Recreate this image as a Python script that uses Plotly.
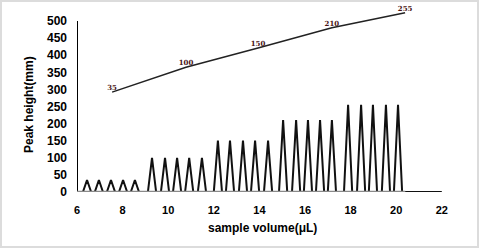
import plotly.graph_objects as go

# Peak data (sample volume, peak height)
peak_centers = [6.44, 6.96, 7.49, 8.02, 8.54,
                9.29, 9.86, 10.39, 10.92, 11.48,
                12.18, 12.71, 13.28, 13.81, 14.38,
                15.04, 15.61, 16.13, 16.66, 17.18,
                17.89, 18.46, 18.98, 19.55, 20.08]
peak_heights = [35, 35, 35, 35, 35,
                100, 100, 100, 100, 100,
                150, 150, 150, 150, 150,
                210, 210, 210, 210, 210,
                255, 255, 255, 255, 255]
baseline_start = 6.0
baseline_end = 22.0

# Upper trend line with labels
trend_x = [7.54, 10.78, 13.94, 17.18, 20.39]
trend_y = [292, 365, 421, 480, 524]
trend_labels = ["35", "100", "150", "210", "255"]

x_ticks = [6, 8, 10, 12, 14, 16, 18, 20, 22]
y_ticks = [0, 50, 100, 150, 200, 250, 300, 350, 400, 450, 500]

half_w = 0.18
px, py = [baseline_start], [0]
for c, h in zip(peak_centers, peak_heights):
    px += [c - half_w, c, c + half_w]
    py += [0, h, 0]
px.append(baseline_end)
py.append(0)

fig = go.Figure()
fig.add_trace(go.Scatter(x=px, y=py, mode="lines",
                         line=dict(color="#111111", width=2), hoverinfo="skip"))
fig.add_trace(go.Scatter(x=trend_x, y=trend_y, mode="lines+text",
                         text=trend_labels, textposition="top center",
                         cliponaxis=False,
                         textfont=dict(family="DejaVu Serif", size=7, color="#4a1414",
                                       weight="bold"),
                         line=dict(color="#222222", width=1.5), hoverinfo="skip"))

W, H = 480, 249
ml, mr, mt, mb = 77, 15, 5, 57
pw, ph = W - ml - mr, H - mt - mb

def xp(p):
    return (p - ml) / pw

def yp(p):
    return (H - mb - p) / ph

shapes = [
    dict(type="line", xref="x", yref="y", x0=6, x1=6, y0=0, y1=500,
         line=dict(color="black", width=2)),
    dict(type="line", xref="x", yref="y", x0=6, x1=20.4, y0=0, y1=0,
         line=dict(color="#8a8a8a", width=2.5), layer="above"),
    dict(type="rect", xref="paper", yref="paper",
         x0=xp(1), x1=xp(478), y0=yp(247), y1=yp(1),
         line=dict(color="#dcdcdc", width=2)),
]

fig.update_layout(
    width=W, height=H,
    margin=dict(l=ml, r=mr, t=mt, b=mb),
    paper_bgcolor="white", plot_bgcolor="white",
    showlegend=False,
    shapes=shapes,
    font=dict(family="Liberation Sans", color="black"),
    xaxis=dict(range=[6, 6 + pw / 22.8], tickvals=x_ticks, showgrid=False,
               zeroline=False, showline=False, ticks="", ticklabelstandoff=10,
               tickfont=dict(family="Liberation Sans", size=11, weight="bold")),
    yaxis=dict(range=[0, ph / 0.342], tickvals=y_ticks, showgrid=False,
               zeroline=False, showline=False, ticks="", ticklabelstandoff=9,
               tickfont=dict(family="Liberation Sans", size=12, weight="bold")),
    annotations=[
        dict(text="sample volume(μL)", xref="paper", yref="paper",
             x=xp(262), y=yp(228), xanchor="center", yanchor="middle",
             showarrow=False, font=dict(size=12, weight="bold")),
        dict(text="Peak height(mm)", xref="paper", yref="paper",
             x=xp(29), y=yp(105), xanchor="center", yanchor="middle",
             showarrow=False, textangle=-90, font=dict(size=12, weight="bold")),
    ],
)

fig.write_html("out.html",
               config={"displayModeBar": False},
               post_script="document.body.style.margin='0px';")
